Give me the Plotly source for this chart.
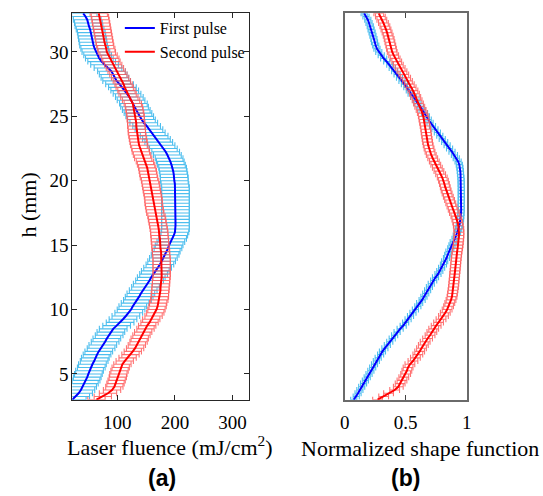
import numpy as np
import plotly.graph_objects as go

# Height above the target (mm), sampled every 0.25 mm from 3 to 33 mm
h = np.linspace(3, 33, 121)

# Laser fluence (mJ/cm^2) of the first pulse
fluence_first = [
    22, 28, 33, 37, 40, 43, 46, 48, 50, 52, 55, 57, 60, 62, 65, 68,
    72, 75, 79, 82, 86, 89, 93, 99, 105, 110, 115, 120, 124, 127, 131, 135,
    138, 141, 145, 149, 152, 156, 159, 163, 166, 170, 174, 177, 180, 183, 185, 188,
    190, 193, 196, 198, 200, 201, 201, 201, 201, 201, 201, 201, 201, 201, 201, 201,
    201, 201, 201, 200, 199, 199, 198, 197, 196, 194, 192, 190, 187, 184, 180, 176,
    172, 168, 164, 159, 155, 151, 146, 142, 139, 136, 133, 130, 128, 124, 121, 117,
    113, 109, 104, 99, 96, 93, 90, 84, 78, 73, 69, 66, 63, 61, 59, 58,
    57, 56, 55, 53, 51, 50, 48, 45, 41,
]

# Laser fluence (mJ/cm^2) of the second pulse
fluence_second = [
    64, 75, 84, 91, 95, 97, 99, 101, 102, 104, 106, 109, 113, 118, 123, 127,
    131, 134, 137, 139, 142, 145, 149, 152, 156, 159, 163, 166, 168, 170, 171, 173,
    174, 174, 175, 175, 176, 176, 177, 177, 177, 177, 177, 177, 177, 176, 176, 175,
    175, 174, 174, 173, 173, 172, 171, 170, 169, 168, 166, 165, 164, 163, 163, 162,
    161, 160, 159, 158, 157, 155, 154, 153, 152, 150, 148, 145, 143, 141, 140, 138,
    137, 136, 135, 134, 134, 133, 133, 132, 132, 131, 130, 129, 127, 124, 121, 118,
    116, 113, 111, 108, 105, 102, 99, 96, 93, 90, 88, 85, 82, 81, 79, 78,
    77, 76, 75, 74, 73, 72, 71, 70, 68,
]

# Normalized shape function of the first pulse
shape_first = [
    0.075, 0.095, 0.11, 0.125, 0.14, 0.155, 0.17, 0.185, 0.2, 0.215, 0.23, 0.245,
    0.26, 0.275, 0.295, 0.31, 0.33, 0.35, 0.37, 0.39, 0.41, 0.43, 0.455, 0.48,
    0.5, 0.52, 0.54, 0.56, 0.58, 0.6, 0.615, 0.635, 0.65, 0.665, 0.68, 0.695,
    0.71, 0.73, 0.745, 0.765, 0.78, 0.795, 0.81, 0.82, 0.835, 0.845, 0.855, 0.87,
    0.88, 0.89, 0.905, 0.915, 0.925, 0.935, 0.94, 0.945, 0.95, 0.952, 0.954, 0.955,
    0.955, 0.955, 0.956, 0.956, 0.956, 0.956, 0.956, 0.955, 0.955, 0.953, 0.95, 0.948,
    0.945, 0.94, 0.93, 0.915, 0.9, 0.88, 0.86, 0.84, 0.82, 0.8, 0.78, 0.76,
    0.74, 0.72, 0.7, 0.685, 0.67, 0.655, 0.635, 0.62, 0.6, 0.585, 0.565, 0.545,
    0.53, 0.51, 0.49, 0.47, 0.45, 0.43, 0.41, 0.39, 0.37, 0.345, 0.32, 0.3,
    0.28, 0.265, 0.255, 0.245, 0.24, 0.232, 0.225, 0.217, 0.21, 0.2, 0.19, 0.175,
    0.16,
]

# Normalized shape function of the second pulse
shape_second = [
    0.27, 0.32, 0.36, 0.41, 0.44, 0.455, 0.47, 0.485, 0.5, 0.51, 0.52, 0.535,
    0.56, 0.58, 0.6, 0.615, 0.63, 0.645, 0.66, 0.68, 0.7, 0.715, 0.73, 0.75,
    0.77, 0.79, 0.81, 0.825, 0.84, 0.852, 0.862, 0.872, 0.88, 0.884, 0.888, 0.892,
    0.895, 0.897, 0.9, 0.902, 0.905, 0.907, 0.91, 0.912, 0.915, 0.918, 0.922, 0.926,
    0.93, 0.932, 0.935, 0.937, 0.937, 0.936, 0.932, 0.927, 0.92, 0.912, 0.9, 0.89,
    0.88, 0.87, 0.86, 0.85, 0.84, 0.832, 0.825, 0.818, 0.81, 0.8, 0.787, 0.773,
    0.76, 0.747, 0.735, 0.722, 0.71, 0.7, 0.692, 0.685, 0.68, 0.676, 0.672, 0.668,
    0.665, 0.66, 0.655, 0.65, 0.645, 0.637, 0.627, 0.616, 0.605, 0.594, 0.583, 0.572,
    0.56, 0.545, 0.53, 0.515, 0.5, 0.485, 0.47, 0.455, 0.44, 0.427, 0.414, 0.402,
    0.39, 0.384, 0.378, 0.371, 0.365, 0.357, 0.348, 0.339, 0.33, 0.318, 0.305, 0.293,
    0.28,
]

# Half-widths of the horizontal error bars
fluence_err_first = 24
fluence_err_second = 15
shape_err_first = 0.025
shape_err_second = 0.04

series_names = ["First pulse", "Second pulse"]
fluence_ticks = [100, 200, 300]
shape_ticks = [0, 0.5, 1]
shape_ticktext = ["0", "0.5", "1"]
h_ticks = [5, 10, 15, 20, 25, 30]

BLUE = "#0000ff"
RED = "#ff0000"
CYAN_BAR = "rgb(77,190,238)"
RED_BAR = "rgba(255,90,90,0.85)"
SERIF = "Liberation Serif"
SANS = "Liberation Sans"

fig = go.Figure()


def add_series(x, err, name, line_color, bar_color, xa, ya, legend):
    fig.add_trace(go.Scatter(
        x=x, y=h, mode="lines", name=name, showlegend=legend,
        line=dict(color=line_color, width=2),
        error_x=dict(type="constant", value=err, color=bar_color,
                     thickness=1.1, width=3),
        xaxis=xa, yaxis=ya,
    ))


add_series(fluence_first, fluence_err_first, series_names[0], BLUE, CYAN_BAR, "x", "y", True)
add_series(fluence_second, fluence_err_second, series_names[1], RED, RED_BAR, "x", "y", True)
add_series(shape_first, shape_err_first, series_names[0], BLUE, CYAN_BAR, "x2", "y2", False)
add_series(shape_second, shape_err_second, series_names[1], RED, RED_BAR, "x2", "y2", False)

W, H = 543, 496
left_dom = [68.5 / W, 248.3 / W]
right_dom = [346 / W, 470.3 / W]
y_dom = [1 - 399.7 / H, 1 - 13.3 / H]

axis_common = dict(
    showgrid=False, zeroline=False, showline=True, ticks="inside", ticklen=5,
    tickfont=dict(family=SERIF, size=19, color="#000"),
)

fig.update_layout(
    width=W, height=H,
    margin=dict(l=0, r=0, t=0, b=0),
    paper_bgcolor="white", plot_bgcolor="white",
    font=dict(family=SERIF, color="#000"),
    xaxis=dict(domain=left_dom, range=[22, 328], tickvals=fluence_ticks,
               mirror="ticks", linecolor="#262626", linewidth=1,
               tickcolor="#262626", anchor="y", ticklabelstandoff=5,
               **axis_common),
    yaxis=dict(domain=y_dom, range=[3, 33], tickvals=h_ticks,
               mirror="ticks", linecolor="#262626", linewidth=1,
               tickcolor="#262626", anchor="x", ticklabelstandoff=-1,
               **axis_common),
    xaxis2=dict(domain=right_dom, range=[0, 1], tickvals=shape_ticks,
                ticktext=shape_ticktext, mirror="ticks", linecolor="#6a6a6a",
                linewidth=1.5, tickcolor="#444", anchor="y2",
                ticklabelstandoff=5, **axis_common),
    yaxis2=dict(domain=y_dom, range=[3, 33], showticklabels=False,
                showgrid=False, zeroline=False, showline=True, mirror=True,
                linecolor="#6a6a6a", linewidth=1.5, ticks="", anchor="x2"),
    legend=dict(x=117 / W, y=1 - 11 / H, xanchor="left", yanchor="top",
                bgcolor="rgba(0,0,0,0)", borderwidth=0,
                font=dict(family=SERIF, size=16, color="#000"),
                itemwidth=30, tracegroupgap=0),
    annotations=[
        dict(text="h (mm)", x=23 / W, y=1 - 205 / H, xref="paper", yref="paper",
             showarrow=False, textangle=-90, xanchor="center", yanchor="middle",
             font=dict(family=SERIF, size=22, color="#000")),
        dict(text="Laser fluence (mJ/cm<sup>2</sup>)", x=168 / W, y=1 - 446 / H,
             xref="paper", yref="paper", showarrow=False,
             xanchor="center", yanchor="middle",
             font=dict(family=SERIF, size=22, color="#000")),
        dict(text="Normalized shape function", x=423 / W, y=1 - 448 / H,
             xref="paper", yref="paper", showarrow=False,
             xanchor="center", yanchor="middle",
             font=dict(family=SERIF, size=22, color="#000")),
        dict(text="<b>(a)</b>", x=160 / W, y=1 - 478 / H, xref="paper", yref="paper",
             showarrow=False, xanchor="center", yanchor="middle",
             font=dict(family=SANS, size=23, color="#000")),
        dict(text="<b>(b)</b>", x=408 / W, y=1 - 478 / H, xref="paper", yref="paper",
             showarrow=False, xanchor="center", yanchor="middle",
             font=dict(family=SANS, size=23, color="#000")),
    ],
)

fig.write_html("out.html")
